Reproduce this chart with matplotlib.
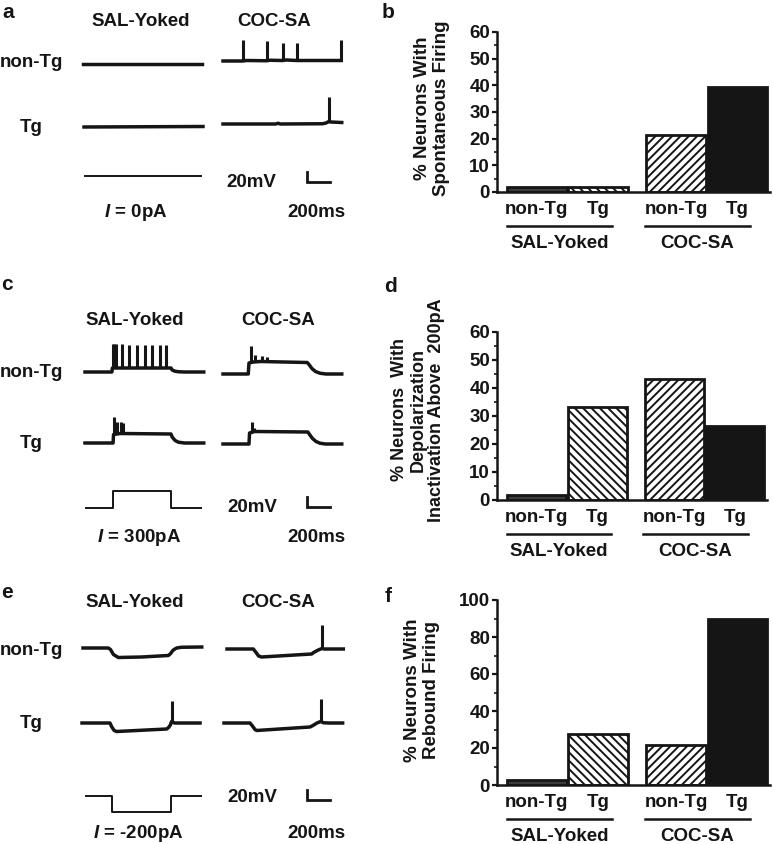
import matplotlib
matplotlib.use('Agg')
import matplotlib.pyplot as plt
import matplotlib.transforms as mtransforms
import numpy as np

plt.rcParams['font.family'] = ['Liberation Sans', 'DejaVu Sans']
plt.rcParams['font.weight'] = 'bold'
plt.rcParams['mathtext.fontset'] = 'custom'
plt.rcParams['mathtext.it'] = 'Liberation Sans:italic:bold'
plt.rcParams['mathtext.rm'] = 'Liberation Sans:bold'
plt.rcParams['hatch.linewidth'] = 1.4

FW, FH = 773, 844
INK = '#151515'
FS = 13.5

# ---------------- bar chart data (% of neurons) ----------------
groups = ['SAL-Yoked', 'COC-SA']
genotypes = ['non-Tg', 'Tg', 'non-Tg', 'Tg']
spont_pct = [1.8, 1.8, 21.5, 39.5]
depol_pct = [1.8, 33.3, 43.3, 26.5]
rebound_pct = [2.5, 27.5, 21.5, 89.5]
bar_x = [0, 1, 2.27, 3.27]
group_x = [0.37, 2.62]
bar_face = ['#3c3c3c', 'white', 'white', INK]
bar_hatch = [None, '\\\\\\\\', '////', None]

# ---------------- example traces (t in ms, v in mV from rest) ----------------
# a : spontaneous firing, I = 0 pA
a_sal_nontg = dict(t=[0, 1017], v=[0, 0], spk_t=[], spk_v=[])
a_coc_nontg = dict(t=[0, 170, 200, 375, 400, 510, 540, 630, 660, 1010],
                   v=[0, 0, 1, 0.5, 1.5, 1, 2, 1, 1, 1],
                   spk_t=[170, 375, 510, 630, 1010], spk_v=[43, 41, 37, 37, 43])
a_sal_tg = dict(t=[0, 1017], v=[0, 1], spk_t=[], spk_v=[])
a_coc_tg = dict(t=[0, 450, 470, 490, 850, 880, 905, 920, 1015],
                v=[0, 0, 1.5, 0, 0.5, 2, 5, 4, 3],
                spk_t=[905], spk_v=[55])
a_cmd = dict(t=[0, 990], v=[0, 0])

# c : depolarising step, I = 300 pA
c_sal_nontg = dict(t=[0, 230, 234, 735, 745, 770, 800, 850, 1015],
                   v=[0, 0, 8, 8, 4, 1.5, 0.5, 0, 0],
                   spk_t=[236, 250, 264, 316, 380, 444, 509, 573, 637, 695],
                   spk_v=[56, 55, 55, 55, 54, 54, 54, 54, 54, 53])
c_coc_nontg = dict(t=[0, 216, 222, 260, 320, 720, 735, 760, 790, 830, 880, 1015],
                   v=[0, 0, 22, 24, 25, 23, 19, 11, 5, 1.5, 0, 0],
                   spk_t=[237, 274, 331, 373], spk_v=[56, 39, 37, 34])
c_sal_tg = dict(t=[0, 240, 244, 300, 735, 745, 770, 800, 850, 1015],
                v=[0, 0, 17, 19, 18, 12, 5, 1.5, 0, 0],
                spk_t=[248, 276, 305, 327], spk_v=[53, 43, 43, 40])
c_coc_tg = dict(t=[0, 222, 227, 270, 725, 740, 765, 795, 830, 875, 1015],
                v=[0, 0, 22, 25, 24, 19, 11, 5, 1.5, 0, 0],
                spk_t=[245, 265], spk_v=[45, 33])
c_cmd = dict(t=[0, 228, 228, 724, 724, 980], v=[0, 0, 300, 300, 0, 0])

# e : hyperpolarising step, I = -200 pA
e_sal_nontg = dict(t=[0, 216, 235, 260, 302, 500, 729, 745, 772, 800, 843, 1015],
                   v=[0, 0, -3, -13, -19, -18, -15, -12, -4, 0, 1.5, 2],
                   spk_t=[], spk_v=[])
e_coc_nontg = dict(t=[0, 225, 245, 270, 296, 724, 740, 780, 812, 830, 866, 994],
                   v=[0, 0, -6, -14, -16, -10, -7, -2, 1, 0, 0, 0],
                   spk_t=[812], spk_v=[49])
e_sal_tg = dict(t=[0, 239, 255, 275, 296, 724, 740, 755, 766, 790, 838, 1009],
                v=[0, 0, -8, -15, -17, -12, -9, -4, 3, 0, 0, 0],
                spk_t=[766], spk_v=[45])
e_coc_tg = dict(t=[0, 222, 240, 265, 279, 735, 760, 795, 826, 850, 891, 1014],
                v=[0, 0, -5, -13, -15, -8, -5, 0, 3, 0.5, 0, 0],
                spk_t=[826], spk_v=[49])
e_cmd = dict(t=[0, 220, 220, 724, 724, 980], v=[0, 0, -200, -200, 0, 0])

trace_cols = ['SAL-Yoked', 'COC-SA']
trace_rows = ['non-Tg', 'Tg']
scale_v_label = '20mV'
scale_t_label = '200ms'
scale_v, scale_t = 20, 200
current_labels = [r'$\mathit{I}$ = 0pA', r'$\mathit{I}$ = 300pA', r'$\mathit{I}$ = -200pA']

PX_MS = 0.117   # pixels per ms
PX_MV = 0.5     # pixels per mV

fig = plt.figure(figsize=(FW / 100, FH / 100), dpi=100)


def ptext(x, y, s, **kw):
    kw.setdefault('fontsize', FS)
    kw.setdefault('color', INK)
    kw.setdefault('fontweight', 'bold')
    return fig.text(x / FW, 1 - y / FH, s, **kw)


def px_axes(x0, y0, sx, sy, xr, yr):
    # axes whose data origin lands on figure pixel (x0, y0)
    left, right = x0 + xr[0] * sx, x0 + xr[1] * sx
    top, bottom = y0 - yr[1] * sy, y0 - yr[0] * sy
    ax = fig.add_axes([left / FW, 1 - bottom / FH, (right - left) / FW, (bottom - top) / FH])
    ax.set_xlim(xr)
    ax.set_ylim(yr)
    ax.axis('off')
    ax.patch.set_visible(False)
    return ax


def draw_trace(x0, y0, tr):
    ax = px_axes(x0, y0, PX_MS, PX_MV, (-20, 1040), (-30, 65))
    ax.plot(tr['t'], tr['v'], color=INK, lw=2.5, solid_joinstyle='round')
    if tr['spk_t']:
        base = np.interp(tr['spk_t'], tr['t'], tr['v'])
        ax.vlines(tr['spk_t'], base, tr['spk_v'], color=INK, lw=2.2)


def draw_trace_panel(letter, lay, traces, cmd, px_pa, cur_label):
    ptext(*lay['letter'], letter, fontsize=15, va='baseline')
    for cx, name in zip(lay['col_x'], trace_cols):
        ptext(cx, lay['col_y'], name, ha='center', va='baseline')
    ptext(0, lay['row_y'][0], trace_rows[0], ha='left', va='baseline')
    ptext(31, lay['row_y'][1], trace_rows[1], ha='center', va='baseline')
    for (x0, y0), tr in zip(lay['origins'], traces):
        draw_trace(x0, y0, tr)
    ax = px_axes(*lay['cmd'], PX_MS, px_pa, (-20, 1040), (-250, 350))
    ax.plot(cmd['t'], cmd['v'], color=INK, lw=1.4)
    sx, sy = lay['scale']
    ax = px_axes(sx, sy, PX_MS, PX_MV, (-10, 250), (-5, 25))
    ax.plot([0, 0, scale_t], [scale_v, 0, 0], color=INK, lw=2.0, solid_joinstyle='miter')
    ptext(*lay['v_lab'], scale_v_label, ha='center', va='baseline')
    ptext(*lay['i_lab'], cur_label, ha='center', va='baseline')
    ptext(*lay['t_lab'], scale_t_label, ha='center', va='baseline')


def draw_bar_panel(letter, letter_xy, box, vals, ymax, step, ylab, ylab_xy, ylab_fs=FS):
    ptext(*letter_xy, letter, fontsize=15, va='baseline')
    left, right, top, bottom = box
    ax = fig.add_axes([left / FW, 1 - bottom / FH, (right - left) / FW, (bottom - top) / FH])
    bars = ax.bar(bar_x, vals, width=0.97, color=bar_face, edgecolor=INK, linewidth=2)
    for b, h in zip(bars, bar_hatch):
        if h:
            b.set_hatch(h)
    ax.set_xlim(-0.65, 3.8)
    ax.set_ylim(0, ymax)
    for s in ['top', 'right']:
        ax.spines[s].set_visible(False)
    for s in ['left', 'bottom']:
        ax.spines[s].set_linewidth(1.8)
        ax.spines[s].set_color(INK)
    ax.set_yticks(np.arange(0, ymax + 1, step))
    ax.set_yticks(np.arange(step / 2, ymax, step), minor=True)
    ax.tick_params(axis='y', which='major', length=3.5, width=1.6, pad=1.5,
                   labelsize=FS, colors=INK)
    ax.tick_params(axis='y', which='minor', length=2, width=1.2, colors=INK)
    ax.set_xticks(bar_x, genotypes)
    ax.tick_params(axis='x', length=0, pad=6.5, labelsize=FS, colors=INK)
    for lab in ax.get_xticklabels() + ax.get_yticklabels():
        lab.set_fontweight('bold')
    off = mtransforms.ScaledTranslation(0, -34 / 100, fig.dpi_scale_trans)
    for gx, g in zip(group_x, groups):
        ax.plot([gx - 0.86, gx + 0.86], [0, 0], color=INK, lw=1.8, clip_on=False,
                transform=ax.get_xaxis_transform() + off)
        ax.annotate(g, xy=(gx, 0), xycoords=('data', 'axes fraction'),
                    xytext=(0, -56 * 0.72), textcoords='offset points',
                    ha='center', va='baseline', fontsize=FS, fontweight='bold', color=INK)
    ptext(*ylab_xy, ylab, rotation=90, ha='center', va='center', fontsize=ylab_fs,
          multialignment='center', linespacing=1.12)


# ---------------- left column: example traces ----------------
draw_trace_panel('a', dict(letter=(2, 18), col_x=(141, 274), col_y=26, row_y=(67, 132),
                           origins=[(83, 64), (223, 61), (84, 127), (223, 124)],
                           cmd=(85, 176), scale=(307, 182),
                           v_lab=(251, 187), i_lab=(136, 217), t_lab=(316, 217)),
                 [a_sal_nontg, a_coc_nontg, a_sal_tg, a_coc_tg], a_cmd, 0.057, current_labels[0])
draw_trace_panel('c', dict(letter=(1, 290), col_x=(135, 278), col_y=325, row_y=(377, 448),
                           origins=[(85, 372), (223, 374), (85, 443), (223, 444)],
                           cmd=(86, 508), scale=(307, 507),
                           v_lab=(252, 512), i_lab=(139, 542), t_lab=(316, 542)),
                 [c_sal_nontg, c_coc_nontg, c_sal_tg, c_coc_tg], c_cmd, 0.057, current_labels[1])
draw_trace_panel('e', dict(letter=(1, 598), col_x=(135, 278), col_y=607, row_y=(655, 728),
                           origins=[(83, 648), (227, 649), (82, 723), (224, 723)],
                           cmd=(86, 796), scale=(307, 800),
                           v_lab=(252, 802), i_lab=(138, 838), t_lab=(316, 838)),
                 [e_sal_nontg, e_coc_nontg, e_sal_tg, e_coc_tg], e_cmd, 0.08, current_labels[2])

# ---------------- right column: bar charts ----------------
draw_bar_panel('b', (382, 18), (497, 770, 32, 192), spont_pct, 60, 10,
               '% Neurons With\nSpontaneous Firing', (432, 108))
draw_bar_panel('d', (384, 292), (497, 767, 332, 500), depol_pct, 60, 10,
               '% Neurons  With\nDepolarization\nInactivation Above  200pA', (418, 410), 13)
draw_bar_panel('f', (385, 602), (497, 770, 600, 785), rebound_pct, 100, 20,
               '% Neurons With\nRebound Firing', (422, 690))

fig.savefig('out.png', dpi=100, facecolor='white')
